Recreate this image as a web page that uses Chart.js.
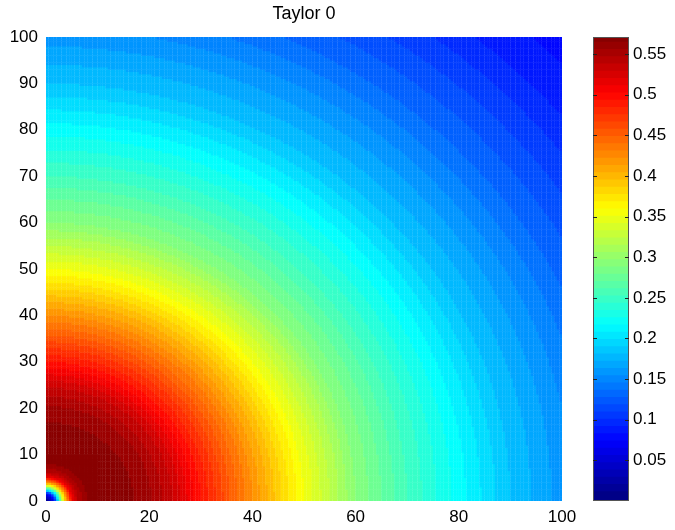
<!DOCTYPE html>
<html>
<head>
<meta charset="utf-8">
<script src="https://cdn.jsdelivr.net/npm/chart.js@4.4.1/dist/chart.umd.min.js"></script>
<style>
  html, body { margin: 0; padding: 0; background: #fff; }
  #wrap { position: relative; width: 675px; height: 530px; }
  #heat { position: absolute; left: 0; top: 0; }
  #bar { position: absolute; left: 575px; top: 0; }
</style>
</head>
<body>
<div id="wrap">
  <canvas id="heat" width="675" height="530"></canvas>
  <canvas id="bar" width="100" height="530"></canvas>
</div>
<script>
// contour levels of the field and the radius (distance from the origin) where each level is crossed
const levels = [0.01, 0.02, 0.03, 0.04, 0.05, 0.06, 0.07, 0.08, 0.09, 0.10,
                0.11, 0.12, 0.13, 0.14, 0.15, 0.16, 0.17, 0.18, 0.19, 0.20,
                0.21, 0.22, 0.23, 0.24, 0.25, 0.26, 0.27, 0.28, 0.29, 0.30,
                0.31, 0.32, 0.33, 0.34, 0.35, 0.36, 0.37, 0.38, 0.39, 0.40,
                0.41, 0.42, 0.43, 0.44, 0.45, 0.46, 0.47, 0.48, 0.49, 0.50,
                0.51, 0.52, 0.53, 0.54, 0.55, 0.56];
// rising side, very close to the origin
const innerRadius = [0.3, 0.5, 0.75, 1.0, 1.15, 1.3, 1.45, 1.6, 1.68, 1.75,
                     1.83, 1.9, 1.95, 2.0, 2.05, 2.1, 2.15, 2.2, 2.28, 2.35,
                     2.42, 2.5, 2.55, 2.6, 2.68, 2.75, 2.82, 2.9, 2.95, 3.0,
                     3.08, 3.15, 3.22, 3.3, 3.38, 3.45, 3.55, 3.65, 3.75, 3.85,
                     3.95, 4.05, 4.18, 4.3, 4.42, 4.55, 4.68, 4.8, 4.9, 5.0,
                     5.25, 5.5, 5.85, 6.2, 7.0, 8.0];
// falling side, going outwards
const outerRadius = [220, 200, 188, 175, 165, 155, 146, 137.5, 130, 125,
                     120, 115, 110, 106, 102, 98, 94, 90, 87.1, 84.3,
                     81.4, 78.6, 75.7, 72.9, 70, 67.5, 65, 62.5, 60, 58.3,
                     56.7, 55, 53.3, 51.7, 50, 48.6, 47.1, 45.7, 44.3, 42.9,
                     41.4, 40, 38.6, 37.1, 35.7, 34.3, 32.9, 31.4, 30, 28.6,
                     27.3, 26, 24.5, 22.5, 20.5, 17];

const xTicks = [0, 20, 40, 60, 80, 100];
const yTicks = [0, 10, 20, 30, 40, 50, 60, 70, 80, 90, 100];
const colorTicks = [0.05, 0.1, 0.15, 0.2, 0.25, 0.3, 0.35, 0.4, 0.45, 0.5, 0.55];
const colorMax = 0.571;
const colorSteps = 64;

const FONT = { family: "'Liberation Sans', Arial, sans-serif", size: 17 };

function jet(t) {
  t = Math.max(0, Math.min(1, t));
  const c = v => Math.round(255 * Math.max(0, Math.min(1, v)));
  return 'rgb(' + c(1.5 - Math.abs(4 * t - 3)) + ',' + c(1.5 - Math.abs(4 * t - 2)) + ',' + c(1.5 - Math.abs(4 * t - 1)) + ')';
}

// which band a cell falls in -> colour of that band
function cellColor(r) {
  let n = 0;
  for (let k = 0; k < levels.length; k++) {
    if (r >= innerRadius[k] && r <= outerRadius[k]) n++;
  }
  let v;
  if (n === 0) v = levels[0] / 2;
  else if (n < levels.length) v = (levels[n - 1] + levels[n]) / 2;
  else v = (levels[n - 1] + colorMax) / 2;
  return jet(v / colorMax);
}

function grid(x0, x1, y0, y1, step) {
  const pts = [], cols = [];
  const nx = Math.round((x1 - x0) / step), ny = Math.round((y1 - y0) / step);
  for (let i = 0; i < nx; i++) {
    for (let j = 0; j < ny; j++) {
      const x = x0 + (i + 0.5) * step, y = y0 + (j + 0.5) * step;
      pts.push({ x: x, y: y });
      cols.push(cellColor(Math.hypot(x, y)));
    }
  }
  return { pts, cols };
}

const coarse = grid(0, 100, 0, 100, 0.5);
const fine = grid(0, 10, 0, 10, 0.2);

new Chart(document.getElementById('heat'), {
  type: 'scatter',
  data: {
    datasets: [
      { data: coarse.pts, pointStyle: 'rect', pointRadius: 2, pointBorderWidth: 0,
        pointBackgroundColor: coarse.cols, clip: 0 },
      { data: fine.pts, pointStyle: 'rect', pointRadius: 0.9, pointBorderWidth: 0,
        pointBackgroundColor: fine.cols, clip: 0 }
    ]
  },
  options: {
    responsive: false,
    animation: false,
    events: [],
    layout: { padding: { left: 0, right: 113, top: 0, bottom: 0 } },
    plugins: {
      legend: { display: false },
      tooltip: { enabled: false },
      title: {
        display: true, text: 'Taylor 0', color: '#000', fullSize: false,
        font: { family: FONT.family, size: 18, weight: 'normal' },
        padding: { top: 3, bottom: 12.4 }
      }
    },
    scales: {
      x: {
        type: 'linear', min: 0, max: 100,
        afterBuildTicks: s => { s.ticks = xTicks.map(v => ({ value: v })); },
        ticks: { color: '#000', font: FONT, padding: 6, maxRotation: 0 },
        grid: { display: false, drawTicks: false }, border: { display: false },
        afterFit: s => { s.height = 29; }
      },
      y: {
        type: 'linear', min: 0, max: 100,
        afterBuildTicks: s => { s.ticks = yTicks.map(v => ({ value: v })); },
        ticks: { color: '#000', font: FONT, padding: 8 },
        grid: { display: false, drawTicks: false }, border: { display: false },
        afterFit: s => { s.width = 46; }
      }
    }
  }
});

// colorbar
const stepH = colorMax / colorSteps;
const barSets = [];
for (let i = 0; i < colorSteps; i++) {
  barSets.push({
    data: [[i * stepH, Math.min(colorMax, (i + 1) * stepH + stepH * 0.3)]],
    backgroundColor: jet((i + 0.5) / colorSteps),
    borderWidth: 0, grouped: false, barPercentage: 1, categoryPercentage: 1
  });
}

const barFrame = {
  id: 'barFrame',
  afterDatasetsDraw(chart) {
    const a = chart.chartArea, y = chart.scales.y, ctx = chart.ctx;
    ctx.save();
    ctx.strokeStyle = '#555';
    ctx.lineWidth = 1;
    ctx.strokeRect(Math.round(a.left) + 0.5, Math.round(a.top) + 0.5,
                   Math.round(a.right - a.left) - 1, Math.round(a.bottom - a.top) - 1);
    ctx.strokeStyle = '#222';
    colorTicks.forEach(v => {
      const py = Math.round(y.getPixelForValue(v)) + 0.5;
      ctx.beginPath();
      ctx.moveTo(a.left, py); ctx.lineTo(a.left + 4, py);
      ctx.moveTo(a.right, py); ctx.lineTo(a.right - 4, py);
      ctx.stroke();
    });
    ctx.restore();
  }
};

new Chart(document.getElementById('bar'), {
  type: 'bar',
  data: { labels: [''], datasets: barSets },
  options: {
    responsive: false,
    animation: false,
    events: [],
    layout: { padding: { left: 18, right: 0, top: 37, bottom: 29 } },
    plugins: { legend: { display: false }, tooltip: { enabled: false } },
    scales: {
      x: { display: false },
      y: {
        position: 'right', min: 0, max: colorMax,
        afterBuildTicks: s => { s.ticks = colorTicks.map(v => ({ value: v })); },
        ticks: { color: '#000', font: FONT, padding: 4, callback: v => String(v) },
        grid: { display: false, drawTicks: false }, border: { display: false },
        afterFit: s => { s.width = 46; }
      }
    }
  },
  plugins: [barFrame]
});
</script>
</body>
</html>
